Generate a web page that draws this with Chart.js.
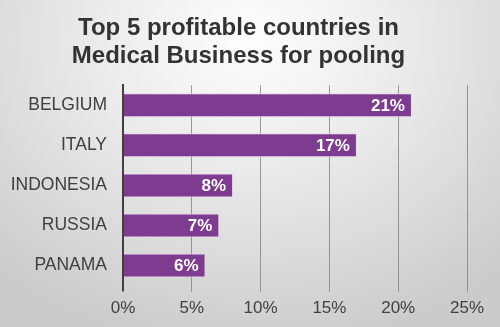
<!DOCTYPE html>
<html>
<head>
<meta charset="utf-8">
<script src="https://cdn.jsdelivr.net/npm/chart.js@4/dist/chart.umd.min.js"></script>
<style>
  html, body { margin: 0; padding: 0; }
  body {
    width: 500px; height: 327px; overflow: hidden;
    background: radial-gradient(ellipse 75% 95% at 50% 12%, #fefefe 0%, #e9e9e9 45%, #cbcbcb 100%);
  }
  #wrap { position: relative; width: 500px; height: 327px; }
</style>
</head>
<body>
<div id="wrap"><canvas id="profitChart"></canvas></div>
<script>
// 국가별 수익률 (%)
const countries = ['BELGIUM', 'ITALY', 'INDONESIA', 'RUSSIA', 'PANAMA'];
const profitShare = [21, 17, 8, 7, 6];
const xTicks = [0, 5, 10, 15, 20, 25];

const FONT = '"Liberation Sans", Arial, sans-serif';
const TEXT_COLOR = '#404040';

// 막대 끝에 값 표시
const barValuePlugin = {
    id: 'barValues',
    afterDatasetsDraw(chart) {
        const ctx = chart.ctx;
        const meta = chart.getDatasetMeta(0);
        ctx.save();
        ctx.font = 'bold 17px ' + FONT;
        ctx.fillStyle = '#ffffff';
        ctx.textAlign = 'right';
        ctx.textBaseline = 'middle';
        meta.data.forEach((bar, i) => {
            ctx.fillText(profitShare[i] + '%', bar.x - 7, bar.y + 1);
        });
        ctx.restore();
    }
};

const ctx = document.getElementById('profitChart').getContext('2d');
new Chart(ctx, {
    type: 'bar',
    data: {
        labels: countries,
        datasets: [{
            data: profitShare,
            backgroundColor: '#7d3c8f',
            borderColor: 'rgba(235, 215, 240, 0.9)',
            borderWidth: 1,
            barPercentage: 0.6,
            categoryPercentage: 1
        }]
    },
    options: {
        indexAxis: 'y',
        responsive: true,
        maintainAspectRatio: false,
        animation: false,
        layout: { padding: { left: 10, right: 33, bottom: 1 } },
        plugins: {
            legend: { display: false },
            tooltip: { enabled: false },
            title: {
                display: true,
                text: ['Top 5 profitable countries in', 'Medical Business for pooling'],
                color: '#333333',
                font: { family: FONT, size: 24, weight: 'bold', lineHeight: 1.15 },
                padding: { top: 15, bottom: 15 }
            }
        },
        scales: {
            x: {
                min: 0,
                max: 25,
                afterBuildTicks(scale) {
                    scale.ticks = xTicks.map(v => ({ value: v }));
                },
                grid: {
                    color: ctx => ctx.tick && ctx.tick.value === 0 ? '#404040' : 'rgba(130, 130, 130, 0.8)',
                    lineWidth: ctx => ctx.tick && ctx.tick.value === 0 ? 2 : 1,
                    drawTicks: true,
                    tickLength: 6
                },
                border: { display: false },
                ticks: {
                    color: TEXT_COLOR,
                    font: { family: FONT, size: 17 },
                    padding: 7,
                    callback: v => v + '%'
                }
            },
            y: {
                afterFit(scale) {
                    scale.width = 113;
                },
                grid: { display: false, drawTicks: false },
                border: { display: true, color: '#404040', width: 2 },
                ticks: {
                    color: TEXT_COLOR,
                    font: { family: FONT, size: 17.5 },
                    padding: 16
                }
            }
        }
    },
    plugins: [barValuePlugin]
});
</script>
</body>
</html>
